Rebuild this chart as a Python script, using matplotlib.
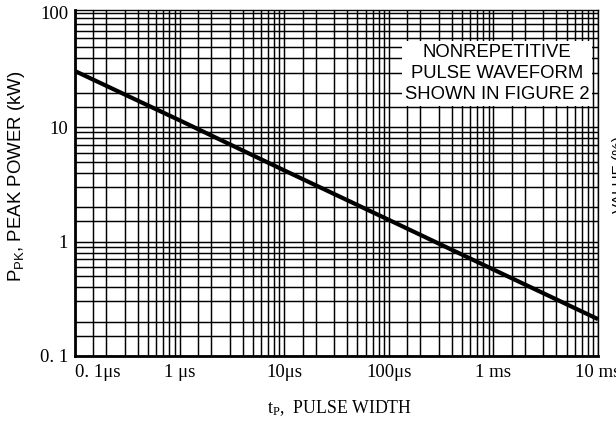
import matplotlib
matplotlib.use('Agg')
import matplotlib.pyplot as plt
from matplotlib.ticker import LogLocator, NullFormatter, FixedLocator, FixedFormatter

# pulse width (s) and peak power (kW)
pulse_width = [1e-7, 1e-6, 1e-5, 1e-4, 1e-3, 1e-2]
peak_power = [31, 11.5, 4.2, 1.55, 0.57, 0.21]

x_ticks = [1e-7, 1e-6, 1e-5, 1e-4, 1e-3, 1e-2]
x_labels = ['0. 1\u03bcs', '1 \u03bcs', '10\u03bcs', '100\u03bcs', '1 ms', '10 ms']
y_ticks = [0.1, 1, 10, 100]
y_labels = ['0. 1', '1', '10', '100']

fig = plt.figure(figsize=(6.16, 4.23), dpi=100)
ax = fig.add_axes([75 / 616, 1 - 356 / 423, 523 / 616, 346 / 423])

ax.set_xscale('log')
ax.set_yscale('log')
ax.set_xlim(1e-7, 1e-2)
ax.set_ylim(0.1, 106)

# dense log grid, incl. the 1.5 subdivision
minor_subs = [1.5, 2, 3, 4, 5, 6, 7, 8, 9]
ax.xaxis.set_minor_locator(LogLocator(base=10, subs=minor_subs, numticks=50))
ax.yaxis.set_minor_locator(LogLocator(base=10, subs=minor_subs, numticks=50))
ax.xaxis.set_minor_formatter(NullFormatter())
ax.yaxis.set_minor_formatter(NullFormatter())
ax.grid(which='both', color='black', lw=1.05)
ax.set_axisbelow(True)

ax.plot(pulse_width, peak_power, color='black', lw=3, solid_capstyle='butt', zorder=3)

ax.xaxis.set_major_locator(FixedLocator(x_ticks))
ax.xaxis.set_major_formatter(FixedFormatter(x_labels))
ax.yaxis.set_major_locator(FixedLocator(y_ticks))
ax.yaxis.set_major_formatter(FixedFormatter(y_labels))
ax.tick_params(which='both', length=0)
ax.tick_params(axis='x', pad=6)
ax.tick_params(axis='y', pad=5)
for lab in ax.get_xticklabels() + ax.get_yticklabels():
    lab.set_family('Liberation Serif')
    lab.set_fontsize(13.5)
ax.get_xticklabels()[0].set_horizontalalignment('left')

for side in ['top', 'right']:
    ax.spines[side].set_linewidth(1.0)
for side in ['left', 'bottom']:
    ax.spines[side].set_linewidth(2.0)

fig.text(17 / 616, 1 - 176 / 423, r'$\mathregular{P_{PK}}$, PEAK POWER (kW)',
         rotation=90, ha='center', va='center', family='Liberation Sans', fontsize=13.4)
fig.text(340 / 616, 1 - 408 / 423, r'$\mathregular{t_P}$,  PULSE WIDTH',
         ha='center', va='center', family='Liberation Serif', fontsize=12.8)

ax.text(497 / 616, 1 - 73.5 / 423, 'NONREPETITIVE\nPULSE WAVEFORM\nSHOWN IN FIGURE 2',
        transform=fig.transFigure, ha='center', va='center', multialignment='center',
        family='Liberation Sans', fontsize=13.3, linespacing=1.3, zorder=4,
        bbox=dict(facecolor='white', edgecolor='none', pad=2))

# clipped label of the neighbouring chart
fig.text(612 / 616, 1 - 175 / 423, 'VALUE (%)', rotation=90, ha='left', va='center',
         family='Liberation Sans', fontsize=11)

fig.savefig('out.png', dpi=100)
